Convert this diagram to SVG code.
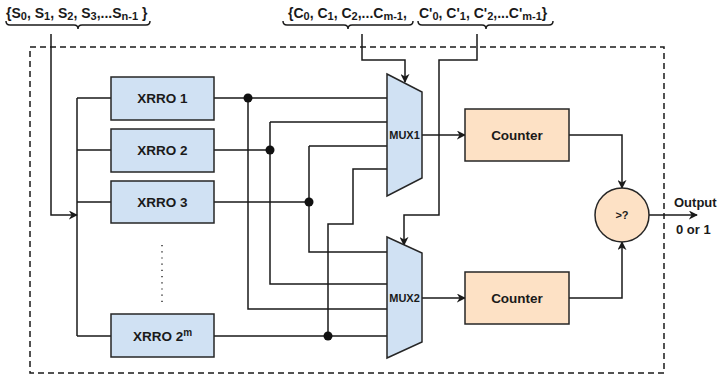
<svg xmlns="http://www.w3.org/2000/svg" width="720" height="377" viewBox="0 0 720 377">
<defs>
<style>
.t{font-family:"Liberation Sans",Arial,sans-serif;font-weight:bold;fill:#1a1a1a;}
.box{fill:#d0e1f3;stroke:#262626;stroke-width:1.5;}
.org{fill:#fde1c5;stroke:#262626;stroke-width:1.5;}
.w{fill:none;stroke:#1a1a1a;stroke-width:1.5;}
.dot{fill:#111;}
.sub{font-size:11px;}
</style>
<marker id="ar" viewBox="0 0 10 10" refX="9" refY="5" markerWidth="9" markerHeight="9" markerUnits="userSpaceOnUse" orient="auto">
<path d="M0,0 L10,5 L0,10 L3,5 z" fill="#1a1a1a"/>
</marker>
</defs>
<rect id="frame" x="30" y="47" width="634" height="326" fill="none" stroke="#1a1a1a" stroke-width="1.5" stroke-dasharray="6 4"/>

<g id="labelS">
<text class="t" x="6" y="18" font-size="14">{S<tspan class="sub" dy="2">0</tspan><tspan dy="-2">, S</tspan><tspan class="sub" dy="2">1</tspan><tspan dy="-2">, S</tspan><tspan class="sub" dy="2">2</tspan><tspan dy="-2">, S</tspan><tspan class="sub" dy="2">3</tspan><tspan dy="-2">,...S</tspan><tspan class="sub" dy="2">n-1</tspan><tspan dy="-2"> }</tspan></text>
<path class="w" d="M6,21 Q6,25 10,25 L74,25 Q78,25 78,29 Q78,25 82,25 L146,25 Q150,25 150,21" stroke-width="1.2"/>
</g>
<g id="labelC">
<text class="t" x="288" y="18" font-size="14">{C<tspan class="sub" dy="2">0</tspan><tspan dy="-2">, C</tspan><tspan class="sub" dy="2">1</tspan><tspan dy="-2">, C</tspan><tspan class="sub" dy="2">2</tspan><tspan dy="-2">,...C</tspan><tspan class="sub" dy="2">m-1</tspan><tspan dy="-2">,</tspan></text>
<path class="w" d="M283,21 Q283,25 287,25 L344,25 Q348,25 348,29 Q348,25 352,25 L409,25 Q413,25 413,21" stroke-width="1.2"/>
</g>
<g id="labelC2">
<text class="t" x="419" y="18" font-size="14">C'<tspan class="sub" dy="2">0</tspan><tspan dy="-2">, C'</tspan><tspan class="sub" dy="2">1</tspan><tspan dy="-2">, C'</tspan><tspan class="sub" dy="2">2</tspan><tspan dy="-2">,...C'</tspan><tspan class="sub" dy="2">m-1</tspan><tspan dy="-2">}</tspan></text>
<path class="w" d="M418,21 Q418,25 422,25 L482,25 Q486,25 486,29 Q486,25 490,25 L549,25 Q553,25 553,21" stroke-width="1.2"/>
</g>

<g id="connectors">
<path class="w" d="M51,34 L51,215 L77,215" marker-end="url(#ar)"/>
<path class="w" d="M77,98 L77,336"/>
<path class="w" d="M77,98 L111,98 M77,150 L111,150 M77,202 L111,202 M77,336 L111,336"/>
<path class="w" d="M214,98 L387,98 M248,98 L248,309 L387,309"/>
<path class="w" d="M214,150 L270,150 M270,122 L387,122 M270,122 L270,284 L387,284"/>
<path class="w" d="M214,202 L309,202 M309,146 L387,146 M309,146 L309,252 L387,252"/>
<path class="w" d="M214,336 L387,336 M328,336 L328,224 L353,224 L353,169 L387,169"/>
<path class="w" d="M362,34 L362,60 L405,60 L405,82" marker-end="url(#ar)"/>
<path class="w" d="M477,34 L477,60 L439,60 L439,215 L404,215 L404,245" marker-end="url(#ar)"/>
<path class="w" d="M422,135 L465,135" marker-end="url(#ar)"/>
<path class="w" d="M422,298 L465,298" marker-end="url(#ar)"/>
<path class="w" d="M569,135 L622,135 L622,188" marker-end="url(#ar)"/>
<path class="w" d="M569,298 L622,298 L622,242" marker-end="url(#ar)"/>
<path class="w" d="M649,215 L697,215" marker-end="url(#ar)"/>
<circle class="dot" cx="248" cy="98" r="4.5"/>
<circle class="dot" cx="270" cy="150" r="4.5"/>
<circle class="dot" cx="309" cy="202" r="4.5"/>
<circle class="dot" cx="328" cy="336" r="4.5"/>
</g>

<g id="xrro1"><rect class="box" x="111" y="77" width="103" height="43"/><text class="t" x="162.5" y="103" font-size="13.5" text-anchor="middle">XRRO 1</text></g>
<g id="xrro2"><rect class="box" x="111" y="129" width="103" height="43"/><text class="t" x="162.5" y="155" font-size="13.5" text-anchor="middle">XRRO 2</text></g>
<g id="xrro3"><rect class="box" x="111" y="181" width="103" height="42"/><text class="t" x="162.5" y="207" font-size="13.5" text-anchor="middle">XRRO 3</text></g>
<g id="ellipsis"><path d="M162,245 L162,302" stroke="#333" stroke-width="1.5" stroke-dasharray="1.2 5" fill="none"/></g>
<g id="xrro2m"><rect class="box" x="111" y="314" width="103" height="43"/><text class="t" x="162.5" y="341" font-size="13.5" text-anchor="middle">XRRO 2<tspan font-size="10" dy="-5">m</tspan></text></g>

<g id="mux1"><path class="box" d="M387,74 L422,92 L422,178 L387,196 Z"/><text class="t" x="404.5" y="139" font-size="11" text-anchor="middle">MUX1</text></g>
<g id="mux2"><path class="box" d="M387,237 L422,253 L422,342 L387,358 Z"/><text class="t" x="404.5" y="302" font-size="11" text-anchor="middle">MUX2</text></g>

<g id="counter1"><rect class="org" x="465" y="109" width="104" height="52"/><text class="t" x="517" y="140" font-size="13.5" text-anchor="middle">Counter</text></g>
<g id="counter2"><rect class="org" x="465" y="272" width="104" height="52"/><text class="t" x="517" y="303" font-size="13.5" text-anchor="middle">Counter</text></g>
<g id="comparator"><circle class="org" cx="622" cy="215" r="27"/><text class="t" x="622" y="219" font-size="11" text-anchor="middle">&gt;?</text></g>
<g id="output"><text class="t" x="674" y="207" font-size="13">Output</text><text class="t" x="676" y="234" font-size="13">0 or 1</text></g>
</svg>
